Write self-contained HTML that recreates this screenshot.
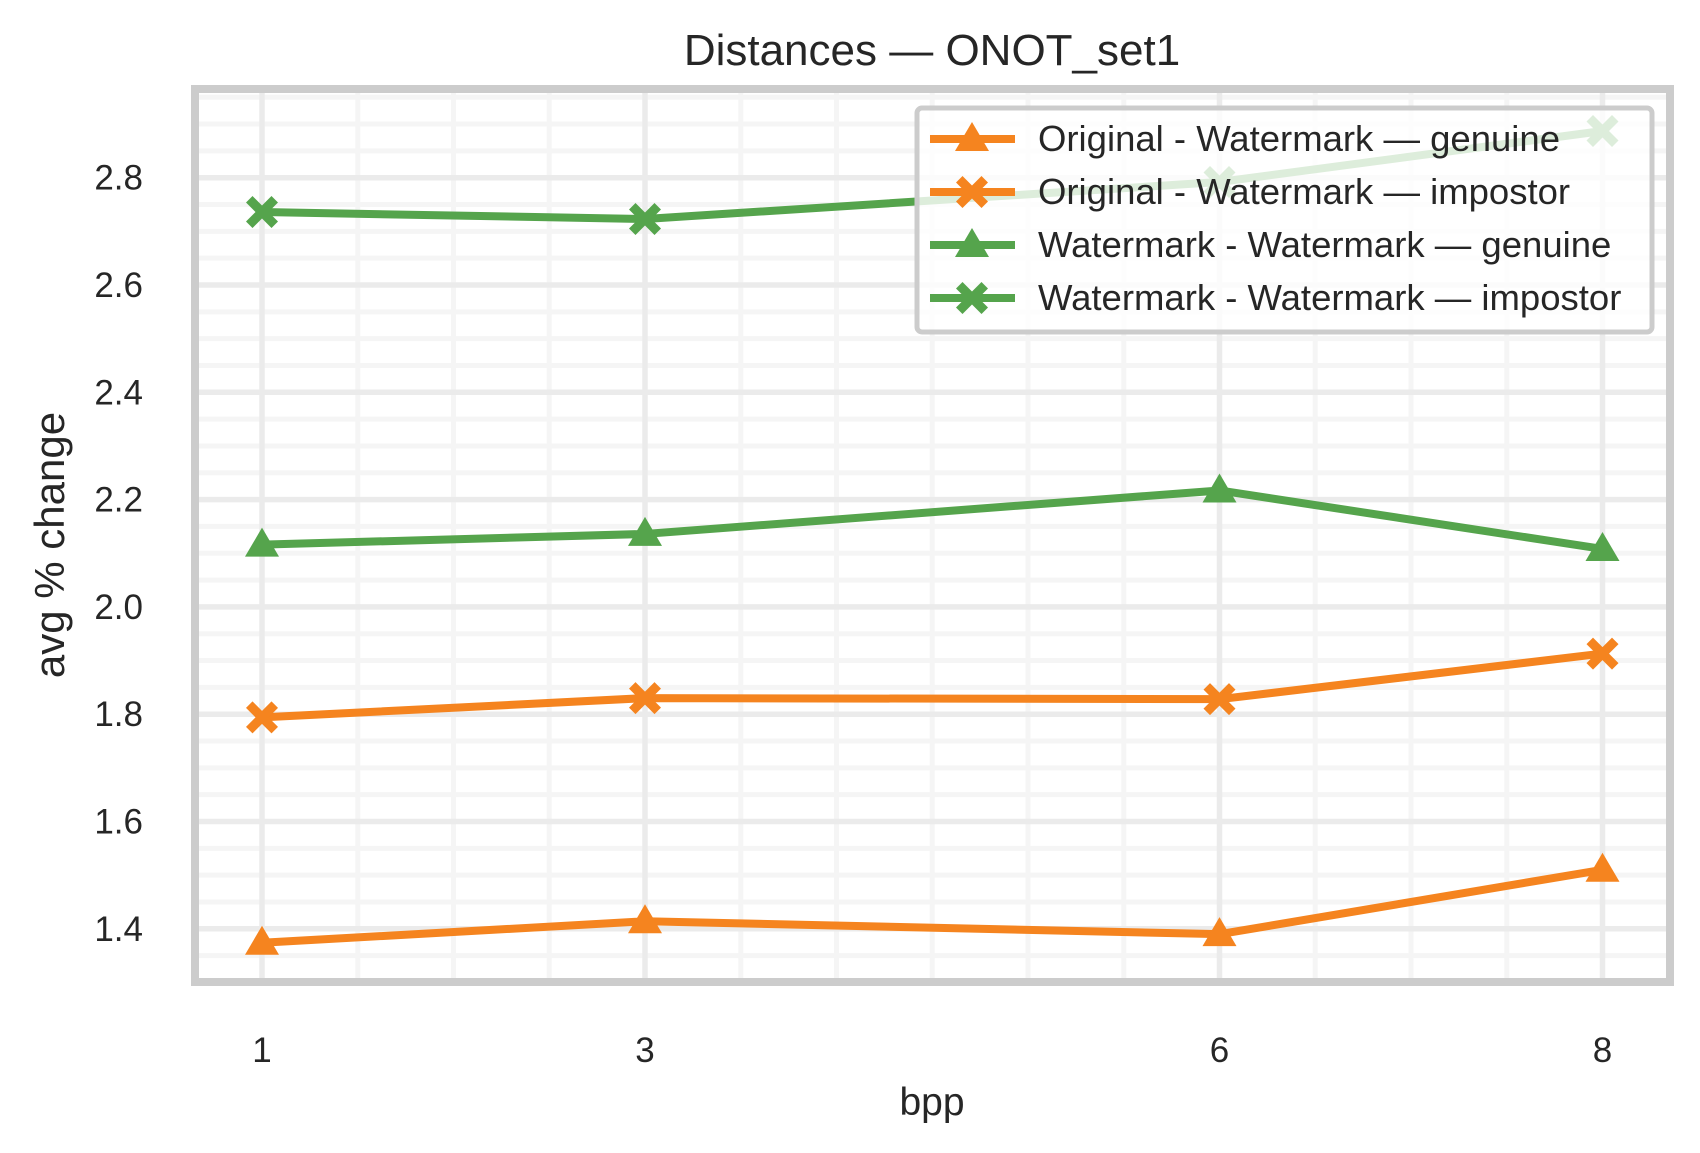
<!DOCTYPE html>
<html><head><meta charset="utf-8"><style>
html,body{margin:0;padding:0;background:#fff}
svg{display:block;font-family:"Liberation Sans",Arial,sans-serif}
</style></head><body>
<svg id="chart" width="1700" height="1153" viewBox="0 0 1700 1153" xmlns="http://www.w3.org/2000/svg">
<text x="932" y="65" font-size="44" text-anchor="middle" fill="#262626">Distances — ONOT_set1</text>
<g id="grid"></g>
<g id="series"></g>
<rect x="195" y="89" width="1475" height="893" fill="none" stroke="#cccccc" stroke-width="8"/>
<g id="ticks"></g>
<text x="932" y="1115" font-size="39" text-anchor="middle" fill="#262626">bpp</text>
<text transform="translate(64,545) rotate(-90)" font-size="42" text-anchor="middle" fill="#262626">avg % change</text>
<g id="legend"></g>
</svg>
<script>
const categories = [1, 3, 6, 8];
const seriesNames = ["Original - Watermark — genuine","Original - Watermark — impostor","Watermark - Watermark — genuine","Watermark - Watermark — impostor"];
const owGenuine = [1.374, 1.414, 1.390, 1.510];
const owImpostor = [1.794, 1.830, 1.828, 1.913];
const wwGenuine = [2.116, 2.136, 2.217, 2.108];
const wwImpostor = [2.736, 2.723, 2.792, 2.887];
const yTicks = [1.4, 1.6, 1.8, 2.0, 2.2, 2.4, 2.6, 2.8];
const xTicks = [1, 3, 6, 8];

const NS = "http://www.w3.org/2000/svg";
const L = 199, R = 1666, T = 93, B = 978;
function xs(v){ return 262 + (v - 1) * 191.5; }
function ys(v){ return 177.7 + (2.8 - v) / 0.2 * 107.3; }
function mk(tag, attrs, parent){ const e = document.createElementNS(NS, tag); for (const k in attrs) e.setAttribute(k, attrs[k]); parent.appendChild(e); return e; }

const grid = document.getElementById("grid");
for (let i = 0; i < 40; i++) {
  const v = 1.3 + i * 0.05;
  const y = ys(v); if (y < T || y > B) continue;
  const g = mk("line", {x1:L, x2:R, y1:y, y2:y, stroke:"#f5f5f5", "stroke-width":5}, grid);
  
  
}
for (let i = 0; i < 20; i++) {
  const x = xs(0.5 + i * 0.5); if (x < L || x > R) continue;
  const g = mk("line", {x1:x, x2:x, y1:T, y2:B, stroke:"#f5f5f5", "stroke-width":5}, grid);
  
  
}
yTicks.forEach(v => {
  const g = mk("line", {x1:L, x2:R, y1:ys(v), y2:ys(v), stroke:"#ebebeb", "stroke-width":5.5}, grid);
  
  
});
xTicks.forEach(v => {
  const g = mk("line", {x1:xs(v), x2:xs(v), y1:T, y2:B, stroke:"#ebebeb", "stroke-width":5.5}, grid);
  
  
});

const ticks = document.getElementById("ticks");
yTicks.forEach(v => {
  const t = mk("text", {x:143, y:ys(v)+12, "font-size":35, "text-anchor":"end", fill:"#262626"}, ticks);
  t.textContent = v.toFixed(1);
  
  
});
xTicks.forEach(v => {
  const t = mk("text", {x:xs(v), y:1062, "font-size":35, "text-anchor":"middle", fill:"#262626"}, ticks);
  t.textContent = v;
  
  
});

function marker(parent, type, x, y, color){
  let e;
  if (type === "tri") {
    e = mk("polygon", {points:`${x},${y-17} ${x-17},${y+12} ${x+17},${y+12}`, fill:color}, parent);
  } else {
    const s = 16, w = 6.5;
    e = mk("polygon", {points:`${x-s+w},${y-s} ${x},${y-w} ${x+s-w},${y-s} ${x+s},${y-s+w} ${x+w},${y} ${x+s},${y+s-w} ${x+s-w},${y+s} ${x},${y+w} ${x-s+w},${y+s} ${x-s},${y+s-w} ${x-w},${y} ${x-s},${y-s+w}`, fill:color}, parent);
  }
  return e;
}

const ORANGE = "#f5841f", GREEN = "#55a44c";
const series = [
  {vals: owGenuine, color: ORANGE, m: "tri", name: "series-original-watermark-genuine"},
  {vals: owImpostor, color: ORANGE, m: "x", name: "series-original-watermark-impostor"},
  {vals: wwGenuine, color: GREEN, m: "tri", name: "series-watermark-watermark-genuine"},
  {vals: wwImpostor, color: GREEN, m: "x", name: "series-watermark-watermark-impostor"}
];
const sg = document.getElementById("series");
series.forEach(s => {
  const g = mk("g", {}, sg);
  
  
  const pts = categories.map((c, i) => `${xs(c)},${ys(s.vals[i])}`).join(" ");
  const pl = mk("polyline", {points: pts, fill: "none", stroke: s.color, "stroke-width": 8, "stroke-linejoin": "round"}, g);
  
  
  categories.forEach((c, i) => {
    const m = marker(g, s.m, xs(c), ys(s.vals[i]), s.color);
    
    
  });
});

const lg = document.getElementById("legend");


mk("rect", {x:917, y:108, width:735, height:224, rx:5, fill:"#ffffff", "fill-opacity":0.8, stroke:"#cccccc", "stroke-width":5}, lg);
series.forEach((s, i) => {
  const y = 139 + i * 53;
  const e = mk("g", {}, lg);
  
  
  mk("line", {x1:930, x2:1015, y1:y, y2:y, stroke:s.color, "stroke-width":8}, e);
  marker(e, s.m, 972, y, s.color);
  const t = mk("text", {x:1038, y:y+12, "font-size":36.5, fill:"#262626"}, e);
  t.textContent = seriesNames[i];
});
</script>
</body></html>
